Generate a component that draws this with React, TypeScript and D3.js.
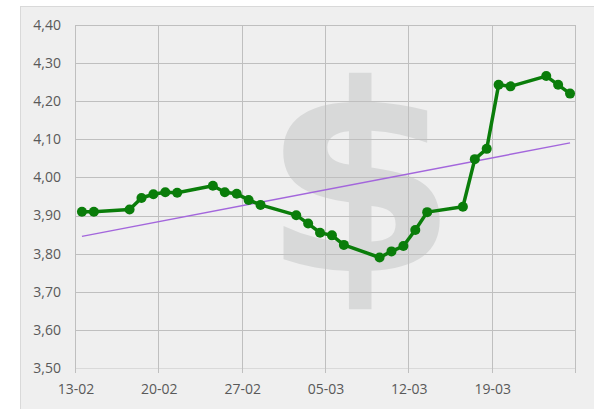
import React from "react";
import * as d3 from "d3";

const dates = [
  "13-02", "14-02", "17-02", "18-02", "19-02", "20-02", "21-02",
  "24-02", "25-02", "26-02", "27-02", "28-02",
  "02-03", "03-03", "04-03", "05-03", "06-03",
  "09-03", "10-03", "11-03", "12-03", "13-03",
  "16-03", "17-03", "18-03", "19-03", "20-03",
  "23-03", "24-03", "25-03",
];
const values = [
  3.910, 3.910, 3.916, 3.946, 3.956, 3.961, 3.960,
  3.978, 3.961, 3.957, 3.941, 3.928,
  3.901, 3.879, 3.855, 3.848, 3.823,
  3.790, 3.806, 3.820, 3.862, 3.909,
  3.923, 4.048, 4.075, 4.243, 4.239,
  4.266, 4.243, 4.220,
];
const xTickLabels = ["13-02", "20-02", "27-02", "05-03", "12-03", "19-03", "26-03"];
const yTicks = [3.5, 3.6, 3.7, 3.8, 3.9, 4.0, 4.1, 4.2, 4.3, 4.4];
const YEAR = 2020;

const W = 594, H = 409;
const M = { left: 76, right: 576, top: 25, bottom: 368 };

const parse = (s: string) => {
  const [d, m] = s.split("-").map(Number);
  return new Date(Date.UTC(YEAR, m - 1, d));
};
const HALF_DAY = 12 * 3600 * 1000;

export default function App() {
  const x = d3.scaleUtc()
    .domain([parse(xTickLabels[0]), parse(xTickLabels[xTickLabels.length - 1])])
    .range([M.left, M.right]);
  const y = d3.scaleLinear().domain([3.5, 4.4]).range([M.bottom, M.top]);
  const fmtY = (v: number) => d3.format(".2f")(v).replace(".", ",");

  const pts = dates.map((d, i) => ({ t: new Date(parse(d).getTime() + HALF_DAY), v: values[i] }));
  const line = d3.line<{ t: Date; v: number }>().x(d => x(d.t)).y(d => y(d.v));

  // linear trend (least squares on date)
  const xs = pts.map(p => p.t.getTime());
  const mx = d3.mean(xs)!;
  const my = d3.mean(values)!;
  let sxy = 0, sxx = 0;
  xs.forEach((xv, i) => { sxy += (xv - mx) * (values[i] - my); sxx += (xv - mx) ** 2; });
  const slope = sxy / sxx;
  const trend = [pts[0], pts[pts.length - 1]].map(p => ({ t: p.t, v: my + slope * (p.t.getTime() - mx) }));

  const font = "'Open Sans', sans-serif";
  return (
    <svg width={W} height={H} style={{ position: "absolute", left: 0, top: 0 }}>
      <rect x={0} y={0} width={W} height={H} fill="#ffffff" />
      <rect x={20.5} y={6.5} width={W} height={H} fill="#efefef" stroke="#d9d9d9" strokeWidth={1} />
      <g transform="translate(360,271) scale(1.09,1)">
        <text x={0} y={0} textAnchor="middle" fontFamily="'DejaVu Sans'" fontWeight="bold"
          fontSize={261} fill="#d8d9d9">$</text>
      </g>
      {yTicks.map((t, i) => (
        <g key={"y" + i}>
          <line x1={M.left} x2={M.right} y1={Math.round(y(t)) + 0.5} y2={Math.round(y(t)) + 0.5}
            stroke={i === 0 ? "#d9d9d9" : "#bfbfbf"} strokeWidth={1} />
          <text x={61} y={y(t)} dy="0.35em" textAnchor="end" fontFamily={font} fontSize={14} fill="#595959">{fmtY(t)}</text>
        </g>
      ))}
      {xTickLabels.map((s, i) => {
        const xv = Math.round(x(parse(s))) - 0.5;
        return (
          <g key={"x" + i}>
            <line x1={xv} x2={xv} y1={M.top} y2={M.bottom + 5} stroke="#bfbfbf" strokeWidth={1} />
            {i < xTickLabels.length - 1 && (
              <text x={x(parse(s))} y={394} textAnchor="middle" fontFamily={font} fontSize={14} fill="#595959">{s}</text>
            )}
          </g>
        );
      })}
      <path d={line(trend)!} fill="none" stroke="#a366dc" strokeWidth={1.4} />
      <path d={line(pts)!} fill="none" stroke="#0a7d0a" strokeWidth={3.5} strokeLinejoin="round" />
      {pts.map((p, i) => (
        <circle key={"p" + i} cx={x(p.t)} cy={y(p.v)} r={5} fill="#0a7d0a" />
      ))}
    </svg>
  );
}
